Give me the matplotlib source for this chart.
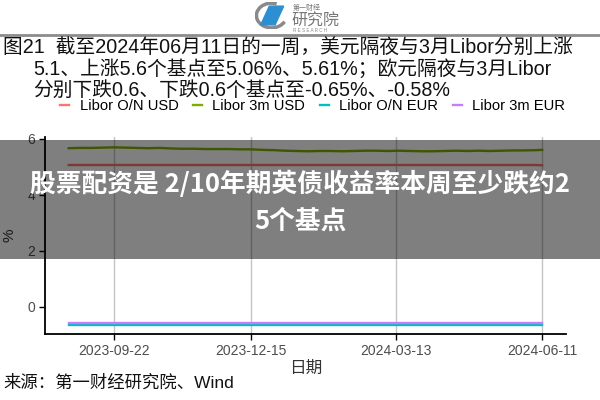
import matplotlib
matplotlib.use("Agg")
import matplotlib.pyplot as plt
import matplotlib.dates as mdates
from matplotlib.patches import Rectangle, Polygon, Arc
from matplotlib.lines import Line2D
import pandas as pd

plt.rcParams['font.family'] = ['Liberation Sans', 'Noto Sans CJK SC', 'DejaVu Sans']

# weekly readings, 2023-08-25 .. 2024-06-07, plus 2024-06-11
dates = list(pd.date_range('2023-08-25', '2024-06-07', freq='W-FRI')) + [pd.Timestamp('2024-06-11')]

on_usd = [5.07, 5.07, 5.07, 5.07, 5.07, 5.07, 5.07, 5.07, 5.07, 5.07,
          5.07, 5.07, 5.07, 5.07, 5.07, 5.07, 5.07, 5.07, 5.07, 5.07,
          5.07, 5.07, 5.07, 5.07, 5.07, 5.07, 5.07, 5.07, 5.07, 5.07,
          5.07, 5.07, 5.07, 5.07, 5.07, 5.07, 5.07, 5.07, 5.07, 5.07,
          5.07, 5.07, 5.06]
m3_usd = [5.67, 5.68, 5.68, 5.69, 5.70, 5.69, 5.68, 5.67, 5.68, 5.66,
          5.65, 5.65, 5.64, 5.64, 5.64, 5.63, 5.63, 5.61, 5.60, 5.58,
          5.57, 5.56, 5.57, 5.57, 5.56, 5.57, 5.58, 5.58, 5.57, 5.58,
          5.57, 5.56, 5.56, 5.57, 5.58, 5.57, 5.58, 5.57, 5.58, 5.59,
          5.59, 5.60, 5.61]
on_eur = [-0.65, -0.65, -0.65, -0.65, -0.65, -0.65, -0.65, -0.65, -0.65, -0.65,
          -0.65, -0.65, -0.65, -0.65, -0.65, -0.65, -0.65, -0.65, -0.65, -0.65,
          -0.65, -0.65, -0.65, -0.65, -0.65, -0.65, -0.65, -0.65, -0.65, -0.65,
          -0.65, -0.65, -0.65, -0.65, -0.65, -0.65, -0.65, -0.65, -0.65, -0.65,
          -0.65, -0.65, -0.65]
m3_eur = [-0.58, -0.58, -0.58, -0.58, -0.58, -0.58, -0.58, -0.58, -0.58, -0.58,
          -0.58, -0.58, -0.58, -0.58, -0.58, -0.58, -0.58, -0.58, -0.58, -0.58,
          -0.58, -0.58, -0.58, -0.58, -0.58, -0.58, -0.58, -0.58, -0.58, -0.58,
          -0.58, -0.58, -0.58, -0.58, -0.58, -0.58, -0.58, -0.58, -0.58, -0.58,
          -0.58, -0.58, -0.58]

series_names = ['Libor O/N USD', 'Libor 3m USD', 'Libor O/N EUR', 'Libor 3m EUR']
series_colors = ['#F8766D', '#7CAE00', '#00BFC4', '#C77CFF']
tick_dates = ['2023-09-22', '2023-12-15', '2024-03-13', '2024-06-11']

title_lines = ['图21  截至2024年06月11日的一周，美元隔夜与3月Libor分别上涨',
               '5.1、上涨5.6个基点至5.06%、5.61%；欧元隔夜与3月Libor',
               '分别下跌0.6、下跌0.6个基点至-0.65%、-0.58%']
banner = ['股票配资是 2/10年期英债收益率本周至少跌约2', '5个基点']

fig = plt.figure(figsize=(6, 4), dpi=100)

# logo
lax = fig.add_axes([0.425, 1 - 29 / 400, 0.055, 27 / 400])
lax.set_xlim(-1.15, 1.15)
lax.set_ylim(-1.15, 1.15)
lax.axis('off')
lax.add_patch(Arc((0, 0), 2.1, 2.1, theta1=70, theta2=330, color='#8a8a8a', lw=2.5))
lax.add_patch(Polygon([(-0.75, -0.8), (-0.15, 0.8), (0.85, 0.8), (0.25, -0.8)],
                      closed=True, color='#2b8fd1'))
fig.text(0.488, 1 - 7.5 / 400, '第一财经', fontsize=5, color='#777777', va='center',
         family=['Noto Sans CJK SC'])
fig.text(0.486, 1 - 21 / 400, '研究院', fontsize=11.5, color='#777777', va='center',
         family=['Noto Sans CJK SC'])
fig.text(0.488, 1 - 31 / 400, 'R E S E A R C H', fontsize=3.3, color='#888888', va='center')
fig.add_artist(Line2D([0, 1], [1 - 35 / 400] * 2, color='#8c8c8c', lw=2))

# title
fig.text(0.005, 1 - 47 / 400, title_lines[0], fontsize=14.2, va='center', color='#111111')
fig.text(0.055, 1 - 69 / 400, title_lines[1], fontsize=14.2, va='center', color='#111111')
fig.text(0.055, 1 - 90.5 / 400, title_lines[2], fontsize=14.2, va='center', color='#111111')

ax = fig.add_axes([0.075, 0.165, 0.868, 0.4925])
for name, vals, c in zip(series_names, [on_usd, m3_usd, on_eur, m3_eur], series_colors):
    ax.plot(dates, vals, color=c, lw=1.7, label=name)

ax.set_ylim(-0.97, 6.07)
ax.set_yticks([0, 2, 4, 6])
span = dates[-1] - dates[0]
ax.set_xlim(dates[0] - span * 0.05, dates[-1] + span * 0.05)
ax.set_xticks(pd.to_datetime(tick_dates))
ax.xaxis.set_major_formatter(mdates.DateFormatter('%Y-%m-%d'))
ax.grid(axis='x', color='#c4c4c4', lw=1)
ax.set_axisbelow(True)
for s in ['top', 'right']:
    ax.spines[s].set_visible(False)
for s in ['left', 'bottom']:
    ax.spines[s].set_linewidth(1.3)
ax.tick_params(length=4, width=1, labelsize=10, colors='#4d4d4d', pad=3)
ax.tick_params(axis='both', color='black')
ax.set_xlabel('日期', fontsize=12, color='#333333', labelpad=2)
ax.set_ylabel('%', fontsize=11, color='#333333', labelpad=8)

fig.legend(loc='center', bbox_to_anchor=(0.521, 1 - 106 / 400), ncol=4, frameon=False,
           fontsize=10.6, handlelength=0.6, columnspacing=1.0, handletextpad=0.7,
           borderpad=0, borderaxespad=0)

fig.text(0.005, 1 - 383 / 400, '来源：第一财经研究院、Wind', fontsize=12.5, va='center', color='#111111')

# banner overlay
fig.add_artist(Rectangle((0, 1 - 259 / 400), 1, 119 / 400, transform=fig.transFigure,
                         color='black', alpha=0.5, lw=0, zorder=5))
fig.text(0.5, 1 - 184 / 400, banner[0], fontsize=18.5, weight='bold', color='white',
         ha='center', va='center', family=['Noto Sans CJK SC'], zorder=6)
fig.text(0.5, 1 - 221 / 400, banner[1], fontsize=18.5, weight='bold', color='white',
         ha='center', va='center', family=['Noto Sans CJK SC'], zorder=6)

fig.savefig('out.png', dpi=100)
